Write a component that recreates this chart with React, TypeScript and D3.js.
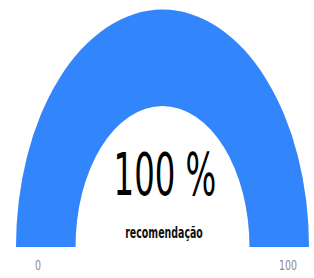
import React, { useEffect, useRef } from 'react';
import * as d3 from 'd3';

// gauge data
const gaugeValue = [100];
const gaugeRange = [0, 100];
const gaugeLabel = ['recomendação'];
const tickLabels = ['0', '100'];

export default function App() {
  const svgRef = useRef<SVGSVGElement>(null);

  useEffect(() => {
    const width = 314;
    const height = 278;
    const cx = 162.5;
    const cy = 247;
    const stretch = 1.62; // gauge is drawn taller than wide

    const svg = d3.select(svgRef.current);
    svg.selectAll('*').remove();
    svg.attr('width', width).attr('height', height);

    const angle = d3.scaleLinear()
      .domain(gaugeRange)
      .range([-Math.PI / 2, Math.PI / 2]);

    const arc = d3.arc<any>()
      .innerRadius(87)
      .outerRadius(146.5);

    const g = svg.append('g')
      .attr('transform', `translate(${cx},${cy}) scale(1,${stretch})`);

    // background track
    g.append('path')
      .attr('d', arc({ startAngle: angle(gaugeRange[0]), endAngle: angle(gaugeRange[1]) }))
      .attr('fill', '#edebeb');

    // value
    g.append('path')
      .attr('d', arc({ startAngle: angle(gaugeRange[0]), endAngle: angle(gaugeValue[0]) }))
      .attr('fill', '#3385fc');

    const font = '"DejaVu Sans Condensed", sans-serif';

    // condensed text helper: squeeze horizontally around x
    const squeeze = (x: number, s: number) => `translate(${x},0) scale(${s},1) translate(${-x},0)`;

    svg.append('text')
      .attr('x', 165)
      .attr('y', 195)
      .attr('text-anchor', 'middle')
      .attr('font-family', font)
      .attr('font-size', 58)
      .attr('fill', '#010101')
      .attr('transform', squeeze(165, 0.62))
      .text(`${gaugeValue[0]} %`);

    svg.append('text')
      .attr('x', 164)
      .attr('y', 238)
      .attr('text-anchor', 'middle')
      .attr('font-family', font)
      .attr('font-weight', 'bold')
      .attr('font-size', 15)
      .attr('fill', '#111')
      .attr('transform', squeeze(164, 0.7))
      .text(gaugeLabel[0]);

    const labelX = [38, 288];
    svg.selectAll('.tick')
      .data(tickLabels)
      .enter().append('text')
      .attr('class', 'tick')
      .attr('x', (d, i) => labelX[i])
      .attr('y', 270)
      .attr('text-anchor', 'middle')
      .attr('font-family', font)
      .attr('font-size', 14)
      .attr('fill', '#8a8a8a')
      .attr('transform', (d, i) => squeeze(labelX[i], 0.75))
      .text(d => d);
  }, []);

  return (
    <svg ref={svgRef} style={{ position: 'absolute', left: 0, top: 0, display: 'block' }}></svg>
  );
}
